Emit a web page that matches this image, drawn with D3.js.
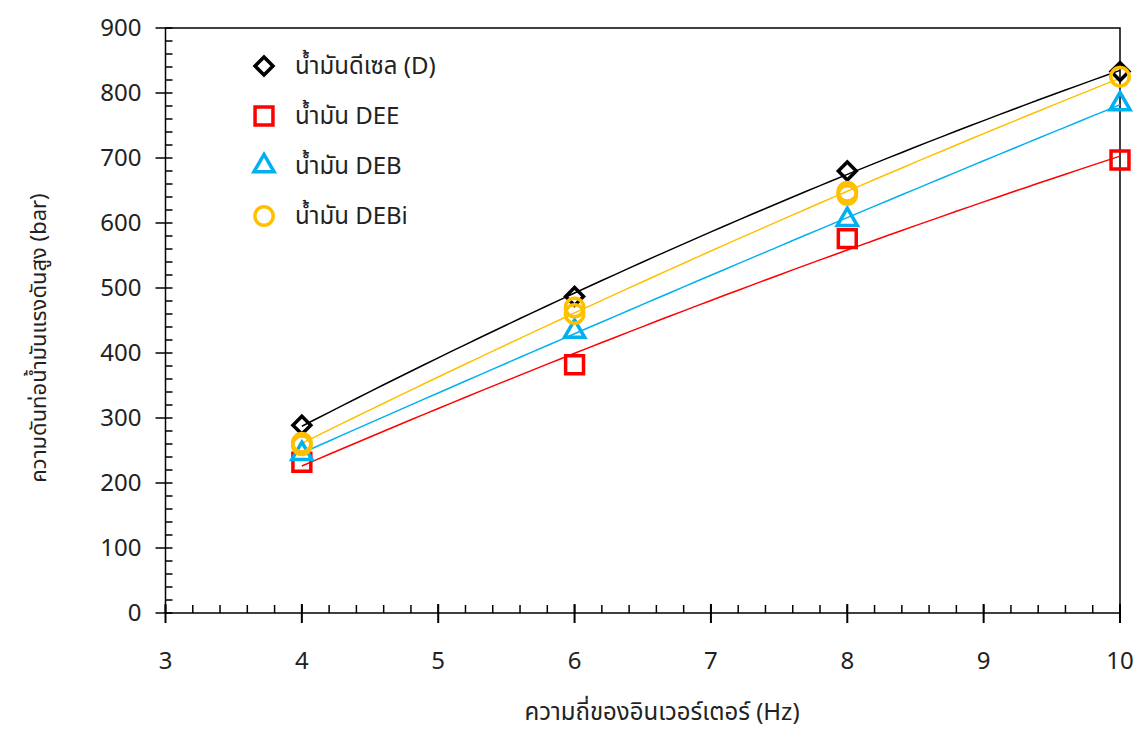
<!DOCTYPE html>
<html>
<head>
<meta charset="utf-8">
<script src="https://cdn.jsdelivr.net/npm/d3@7"></script>
<style>
  body { margin: 0; background: #fff; }
  svg text { font-family: "Noto Sans Thai", "Leelawadee UI", Tahoma, "Noto Sans", "DejaVu Sans", sans-serif; fill: #222; }
</style>
</head>
<body>
<div id="chart"></div>
<script>
// frequency (Hz) and measured pressure (bar), replicate points repeat the x value
var freqD    = [4, 6, 8, 10];
var presD    = [289, 487, 680, 833];
var freqDEE  = [4, 6, 8, 10];
var presDEE  = [232, 382, 576, 697];
var freqDEB  = [4, 6, 8, 10];
var presDEB  = [245, 433, 605, 783];
var freqDEBi = [4, 4, 6, 6, 8, 8, 10];
var presDEBi = [262, 258, 470, 460, 648, 643, 825];

var seriesNames = ["น้ำมันดีเซล (D)", "น้ำมัน DEE", "น้ำมัน DEB", "น้ำมัน DEBi"];
var xTicks = [3, 4, 5, 6, 7, 8, 9, 10];
var yTicks = [0, 100, 200, 300, 400, 500, 600, 700, 800, 900];

var series = [
  { name: seriesNames[0], xs: freqD,    ys: presD,    color: "#000000", shape: "diamond" },
  { name: seriesNames[1], xs: freqDEE,  ys: presDEE,  color: "#ff0000", shape: "square" },
  { name: seriesNames[2], xs: freqDEB,  ys: presDEB,  color: "#00b0f0", shape: "triangle" },
  { name: seriesNames[3], xs: freqDEBi, ys: presDEBi, color: "#ffc000", shape: "circle" }
];

var W = 1136, H = 731;
var x = d3.scaleLinear().domain([3, 10]).range([165.5, 1120]);
var y = d3.scaleLinear().domain([0, 900]).range([613, 28]);

var svg = d3.select("#chart").append("svg")
  .attr("width", W).attr("height", H);

// quadratic least squares, like a spreadsheet order-2 trendline
function polyFit(xs, ys) {
  var n = xs.length, s = [0,0,0,0,0], t = [0,0,0];
  for (var i = 0; i < n; i++) {
    var xi = 1;
    for (var k = 0; k < 5; k++) { s[k] += xi; if (k < 3) t[k] += xi * ys[i]; xi *= xs[i]; }
  }
  var A = [[s[0], s[1], s[2], t[0]], [s[1], s[2], s[3], t[1]], [s[2], s[3], s[4], t[2]]];
  for (var c = 0; c < 3; c++) {
    for (var r = c + 1; r < 3; r++) {
      var f = A[r][c] / A[c][c];
      for (var j = c; j < 4; j++) A[r][j] -= f * A[c][j];
    }
  }
  var b = [0, 0, 0];
  for (var r2 = 2; r2 >= 0; r2--) {
    var v = A[r2][3];
    for (var j2 = r2 + 1; j2 < 3; j2++) v -= A[r2][j2] * b[j2];
    b[r2] = v / A[r2][r2];
  }
  return function(v) { return b[0] + b[1] * v + b[2] * v * v; };
}

var symbolFor = {
  diamond:  d3.symbol().type(d3.symbolSquare).size(160),
  square:   d3.symbol().type(d3.symbolSquare).size(320),
  triangle: d3.symbol().type(d3.symbolTriangle).size(175),
  circle:   d3.symbol().type(d3.symbolCircle).size(265)
};
function drawMark(g, s, cx, cy) {
  g.append("path")
    .attr("d", symbolFor[s.shape]())
    .attr("transform", "translate(" + cx + "," + cy + ")" + (s.shape === "diamond" ? " rotate(45)" : ""))
    .attr("fill", "none")
    .attr("stroke", s.color)
    .attr("stroke-width", 3.5);
}

// plot frame
svg.append("rect")
  .attr("x", x(3)).attr("y", y(900))
  .attr("width", x(10) - x(3)).attr("height", y(0) - y(900))
  .attr("fill", "none").attr("stroke", "#000").attr("stroke-width", 1.5);

// y axis, major ticks cross, minor ticks inside
var yAxis = svg.append("g").attr("transform", "translate(" + x(3) + ",0)");
yAxis.selectAll(".minor").data(d3.range(0, 901, 20)).enter().append("line")
  .attr("x1", 0).attr("x2", 7).attr("y1", function(d) { return y(d); }).attr("y2", function(d) { return y(d); })
  .attr("stroke", "#000").attr("stroke-width", 1.5);
yAxis.selectAll(".major").data(yTicks).enter().append("line")
  .attr("x1", -10).attr("x2", 0).attr("y1", function(d) { return y(d); }).attr("y2", function(d) { return y(d); })
  .attr("stroke", "#000").attr("stroke-width", 1.5);
yAxis.selectAll("text").data(yTicks).enter().append("text")
  .attr("x", -24).attr("y", function(d) { return y(d); }).attr("dy", "0.35em")
  .attr("text-anchor", "end").style("font-size", "24px").text(function(d) { return d; });

// x axis
var xAxis = svg.append("g").attr("transform", "translate(0," + y(0) + ")");
xAxis.selectAll(".minor").data(d3.range(3, 10.01, 0.2)).enter().append("line")
  .attr("y1", 0).attr("y2", -8).attr("x1", function(d) { return x(d); }).attr("x2", function(d) { return x(d); })
  .attr("stroke", "#000").attr("stroke-width", 1.5);
xAxis.selectAll(".major").data(xTicks).enter().append("line")
  .attr("y1", -9).attr("y2", 10).attr("x1", function(d) { return x(d); }).attr("x2", function(d) { return x(d); })
  .attr("stroke", "#000").attr("stroke-width", 2);
xAxis.selectAll("text").data(xTicks).enter().append("text")
  .attr("x", function(d) { return x(d); }).attr("y", 56)
  .attr("text-anchor", "middle").style("font-size", "24px").text(function(d) { return d; });

// trend lines
var line = d3.line().x(function(d) { return x(d[0]); }).y(function(d) { return y(d[1]); });
series.forEach(function(s) {
  var f = polyFit(s.xs, s.ys);
  var lo = d3.min(s.xs), hi = d3.max(s.xs);
  var pts = d3.range(0, 61).map(function(i) { var v = lo + (hi - lo) * i / 60; return [v, f(v)]; });
  svg.append("path").attr("d", line(pts))
    .attr("fill", "none").attr("stroke", s.color).attr("stroke-width", 1.5);
});

// markers
series.forEach(function(s) {
  var g = svg.append("g");
  s.xs.forEach(function(v, i) { drawMark(g, s, x(v), y(s.ys[i])); });
});

// legend
var legend = svg.append("g");
series.forEach(function(s, i) {
  var ly = 66 + i * 50;
  drawMark(legend, s, 264, ly);
  legend.append("text").attr("x", 295).attr("y", ly).attr("dy", "0.35em")
    .style("font-size", "24px").text(s.name);
});

// axis titles
svg.append("text").attr("x", 662).attr("y", 713).attr("dy", "0.3em")
  .attr("text-anchor", "middle").style("font-size", "24px")
  .text("ความถี่ของอินเวอร์เตอร์ (Hz)");
svg.append("text").attr("transform", "translate(38,338) rotate(-90)").attr("dy", "0.35em")
  .attr("text-anchor", "middle").style("font-size", "22px")
  .text("ความดันท่อน้ำมันแรงดันสูง (bar)");
</script>
</body>
</html>
